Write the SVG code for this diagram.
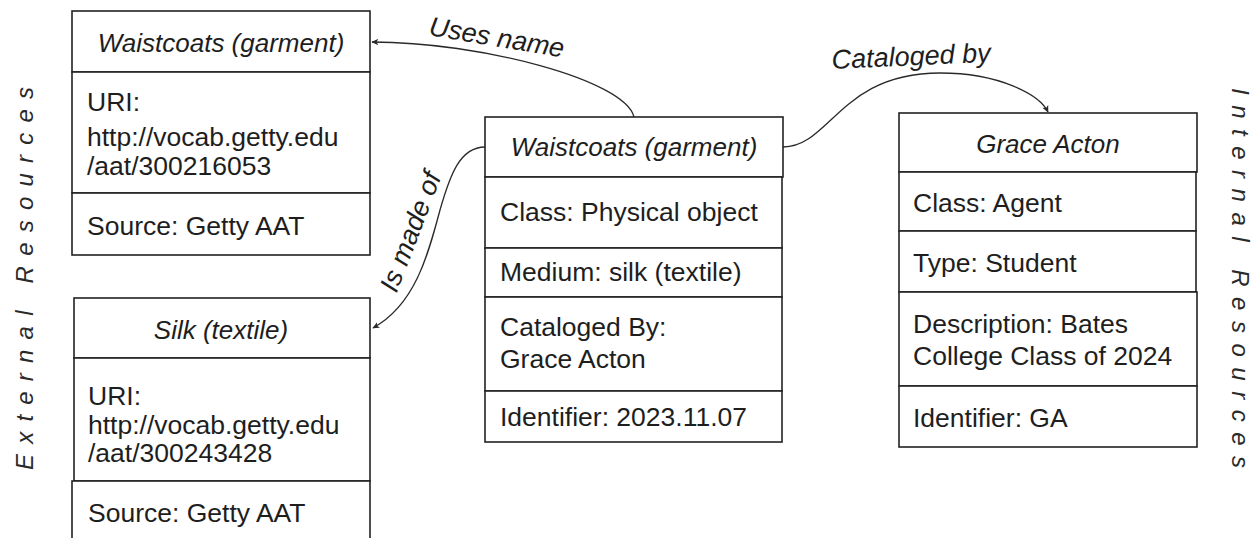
<svg xmlns="http://www.w3.org/2000/svg" width="1260" height="538" viewBox="0 0 1260 538">
<style>
  .box { fill: #ffffff; stroke: #222222; stroke-width: 1.6; }
  .t { font-family: "Liberation Sans", Arial, sans-serif; font-size: 26.5px; fill: #1e1e1e; }
  .h { font-family: "Liberation Sans", Arial, sans-serif; font-size: 26px; font-style: italic; fill: #1e1e1e; text-anchor: middle; }
  .lbl { font-family: "Liberation Sans", Arial, sans-serif; font-size: 27px; font-style: italic; fill: #1e1e1e; }
  .side { font-family: "Liberation Sans", Arial, sans-serif; font-size: 24px; font-style: italic; fill: #2a2a2a; }
  .conn { fill: none; stroke: #2a2a2a; stroke-width: 1.3; marker-end: url(#arrow); }
</style>
<defs>
  <marker id="arrow" viewBox="0 0 10 10" refX="9" refY="5" markerWidth="8" markerHeight="7" markerUnits="userSpaceOnUse" orient="auto">
    <path d="M0,0.5 L10,5 L0,9.5 L2.5,5 Z" fill="#2a2a2a"/>
  </marker>
</defs>
<rect x="0" y="0" width="1260" height="538" fill="#ffffff"/>

<g id="side-labels">
  <text class="side" transform="translate(33,470) rotate(-90)" textLength="383" lengthAdjust="spacing">External Resources</text>
  <text class="side" transform="translate(1232,88) rotate(90)" textLength="380" lengthAdjust="spacing">Internal Resources</text>
</g>

<g id="connectors">
  <path class="conn" d="M634,117 C625,80 480,42 372,42"/>
  <path class="conn" d="M783,147 C830,147 840,73 940,73 C1000,73 1040,95 1048,112"/>
  <path class="conn" d="M485,147 C460,147 450,175 440,210 C428,255 415,305 373,328"/>
  <text class="lbl" transform="translate(428,35) rotate(9.5)">Uses name</text>
  <text class="lbl" transform="translate(832,69) rotate(-2.6)">Cataloged by</text>
  <text class="lbl" text-anchor="middle" transform="translate(419,235) rotate(-69)">Is made of</text>
</g>

<g id="node-waistcoats-getty">
  <rect class="box" x="72" y="11" width="298" height="61"/>
  <rect class="box" x="72" y="72" width="298" height="121"/>
  <rect class="box" x="72" y="193" width="298" height="62"/>
  <text class="h" x="221" y="52">Waistcoats (garment)</text>
  <text class="t" x="87" y="111">URI:</text>
  <text class="t" x="87" y="146">http://vocab.getty.edu</text>
  <text class="t" x="87" y="175">/aat/300216053</text>
  <text class="t" x="87" y="235">Source: Getty AAT</text>
</g>

<g id="node-silk">
  <rect class="box" x="74" y="298" width="296" height="60"/>
  <rect class="box" x="74" y="358" width="296" height="123"/>
  <rect class="box" x="72" y="481" width="298" height="70"/>
  <text class="h" x="221" y="339">Silk (textile)</text>
  <text class="t" x="88" y="405">URI:</text>
  <text class="t" x="88" y="434">http://vocab.getty.edu</text>
  <text class="t" x="88" y="462">/aat/300243428</text>
  <text class="t" x="88" y="522">Source: Getty AAT</text>
</g>

<g id="node-waistcoats-object">
  <rect class="box" x="485" y="117" width="298" height="60"/>
  <rect class="box" x="485" y="177" width="297" height="71"/>
  <rect class="box" x="485" y="248" width="297" height="49"/>
  <rect class="box" x="485" y="297" width="297" height="94"/>
  <rect class="box" x="485" y="391" width="297" height="51"/>
  <text class="h" x="634" y="156">Waistcoats (garment)</text>
  <text class="t" x="500" y="221">Class: Physical object</text>
  <text class="t" x="500" y="281">Medium: silk (textile)</text>
  <text class="t" x="500" y="336">Cataloged By:</text>
  <text class="t" x="500" y="368">Grace Acton</text>
  <text class="t" x="500" y="426">Identifier: 2023.11.07</text>
</g>

<g id="node-grace-acton">
  <rect class="box" x="899" y="113" width="298" height="59"/>
  <rect class="box" x="899" y="172" width="297" height="59"/>
  <rect class="box" x="899" y="231" width="297" height="61"/>
  <rect class="box" x="899" y="292" width="298" height="94"/>
  <rect class="box" x="899" y="386" width="298" height="61"/>
  <text class="h" x="1048" y="153">Grace Acton</text>
  <text class="t" x="913" y="212">Class: Agent</text>
  <text class="t" x="913" y="272">Type: Student</text>
  <text class="t" x="913" y="333">Description: Bates</text>
  <text class="t" x="913" y="365">College Class of 2024</text>
  <text class="t" x="913" y="427">Identifier: GA</text>
</g>
</svg>
